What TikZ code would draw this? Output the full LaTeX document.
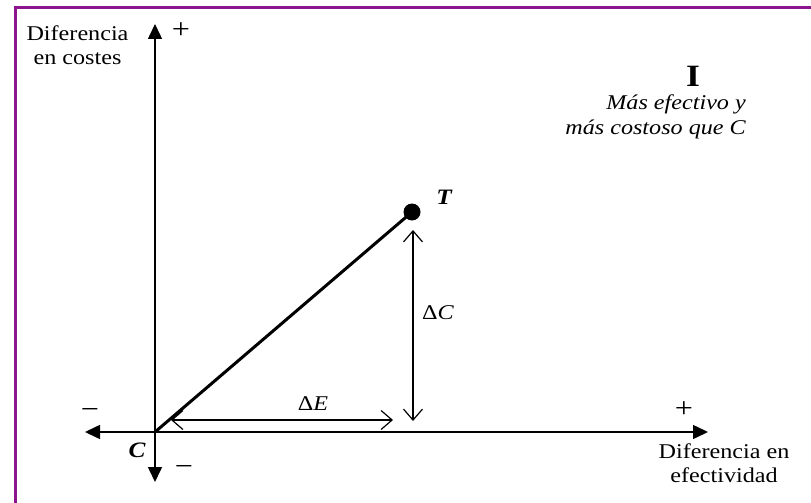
\documentclass[tikz,border=0pt]{standalone}
\usepackage{fontspec}
\setmainfont[FakeStretch=1.15]{Liberation Serif}
\usetikzlibrary{arrows.meta}
\definecolor{framepurple}{RGB}{140,20,140}
\tikzset{
  axis/.style={line width=1.5pt,-{Triangle[length=15pt,width=14pt]}},
  dim/.style={line width=1.2pt,{Straight Barb[length=11pt,width=19pt]}-{Straight Barb[length=11pt,width=19pt]}},
  lbl/.style={inner sep=0pt,font=\fontsize{21}{24}\selectfont},
  sign/.style={inner sep=0pt,font=\fontsize{28}{30}\selectfont},
}
\begin{document}
\begin{tikzpicture}[x=1pt,y=-1pt]
\useasboundingbox (0,0) rectangle (811,503);
\fill[white] (0,0) rectangle (811,503);
\draw[framepurple,line width=3pt] (15,503) -- (15,8) -- (811,8);
\coordinate (C) at (155,432);
\coordinate (top) at (155,24);
\coordinate (bot) at (155,482);
\coordinate (left) at (85,432);
\coordinate (right) at (708,432);
\coordinate (Tp) at (412,212);
\draw[axis] (C) -- (top);
\draw[axis] (C) -- (bot);
\draw[axis] (C) -- (left);
\draw[axis] (C) -- (right);
\draw[line width=3pt] (C) -- (Tp);
\fill (Tp) circle (8.5);
\coordinate (dc1) at (413,230);
\coordinate (dc2) at (413,421);
\coordinate (de1) at (171,420);
\coordinate (de2) at (393,420);
\draw[dim] (dc1) -- (dc2);
\draw[dim] (de1) -- (de2);
\node[lbl,align=center] (ylab) at (77.5,45) {Diferencia\\en costes};
\node[sign] (yplus) at (181,31) {+};
\node[lbl,font=\fontsize{31}{32}\selectfont\bfseries] (quad) at (693,76) {I};
\node[lbl,align=right,anchor=east,font=\fontsize{21}{25}\selectfont\itshape] (qtext) at (746,117) {Más efectivo y\\más costoso que C};
\node[lbl,font=\fontsize{22}{24}\selectfont\bfseries\itshape] (Tlab) at (444,197) {T};
\node[lbl] (dClab) at (438,313) {Δ\textit{C}};
\node[lbl] (dElab) at (313,404) {Δ\textit{E}};
\node[lbl,font=\fontsize{22}{24}\selectfont\bfseries\itshape] (Clab) at (137,450) {C};
\node[sign] (xminus) at (90,413) {−};
\node[sign] (yminus) at (184,470) {−};
\node[sign] (xplus) at (684,410) {+};
\node[lbl,align=center] (xlab) at (724,463) {Diferencia en\\efectividad};
\end{tikzpicture}
\end{document}
